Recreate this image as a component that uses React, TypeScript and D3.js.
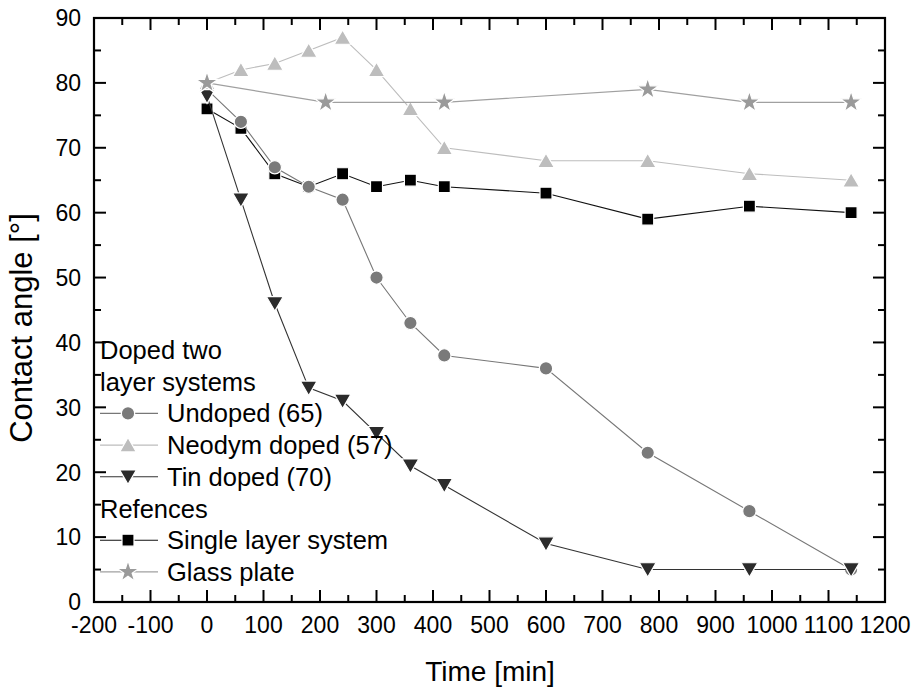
import React from "react";
import * as d3 from "d3";

const undopedX = [0, 60, 120, 180, 240, 300, 360, 420, 600, 780, 960, 1140];
const undopedY = [79, 74, 67, 64, 62, 50, 43, 38, 36, 23, 14, 5];
const neodymX = [0, 60, 120, 180, 240, 300, 360, 420, 600, 780, 960, 1140];
const neodymY = [80, 82, 83, 85, 87, 82, 76, 70, 68, 68, 66, 65];
const tinX = [0, 60, 120, 180, 240, 300, 360, 420, 600, 780, 960, 1140];
const tinY = [78, 62, 46, 33, 31, 26, 21, 18, 9, 5, 5, 5];
const singleX = [0, 60, 120, 180, 240, 300, 360, 420, 600, 780, 960, 1140];
const singleY = [76, 73, 66, 64, 66, 64, 65, 64, 63, 59, 61, 60];
const glassX = [0, 210, 420, 780, 960, 1140];
const glassY = [80, 77, 77, 79, 77, 77];

const xTicks = [-200, -100, 0, 100, 200, 300, 400, 500, 600, 700, 800, 900, 1000, 1100, 1200];
const yTicks = [0, 10, 20, 30, 40, 50, 60, 70, 80, 90];

const FONT = "'Liberation Sans', Arial, Helvetica, sans-serif";

type Series = {
  name: string;
  xs: number[];
  ys: number[];
  color: string;
  line: string;
  symbol: d3.SymbolType;
  size: number;
  rotate: number;
};

const series: Series[] = [
  { name: "Single layer system", xs: singleX, ys: singleY, color: "#000000", line: "#111111", symbol: d3.symbolSquare, size: 144, rotate: 0 },
  { name: "Undoped (65)", xs: undopedX, ys: undopedY, color: "#7a7a7a", line: "#777777", symbol: d3.symbolCircle, size: 140, rotate: 0 },
  { name: "Tin doped (70)", xs: tinX, ys: tinY, color: "#2b2b2b", line: "#333333", symbol: d3.symbolTriangle, size: 120, rotate: 180 },
  { name: "Neodym doped (57)", xs: neodymX, ys: neodymY, color: "#bdbdbd", line: "#bdbdbd", symbol: d3.symbolTriangle, size: 120, rotate: 0 },
  { name: "Glass plate", xs: glassX, ys: glassY, color: "#9a9a9a", line: "#a0a0a0", symbol: d3.symbolStar, size: 145, rotate: 0 },
];

const legendGroups: { title: string[]; items: string[] }[] = [
  { title: ["Doped two", "layer systems"], items: ["Undoped (65)", "Neodym doped (57)", "Tin doped (70)"] },
  { title: ["Refences"], items: ["Single layer system", "Glass plate"] },
];

export default function App() {
  const W = 923, H = 689;
  const L = 94, R = 885, T = 18, B = 602;
  const x = d3.scaleLinear().domain([-200, 1200]).range([L, R]);
  const y = d3.scaleLinear().domain([0, 90]).range([B, T]);
  const line = d3.line<[number, number]>().x(d => x(d[0])).y(d => y(d[1]));

  const xMinor = d3.range(-150, 1200, 100);
  const yMinor = d3.range(5, 90, 10);
  const majL = 12, minL = 7;

  const symPath = (s: Series) => d3.symbol().type(s.symbol).size(s.size)() as string;
  const triOffset = (s: Series) => (s.symbol === d3.symbolTriangle ? (s.rotate ? -2 : 2) : 0);

  const rows: { kind: "title" | "item"; text: string }[] = [];
  legendGroups.forEach(g => {
    g.title.forEach(t => rows.push({ kind: "title", text: t }));
    g.items.forEach(t => rows.push({ kind: "item", text: t }));
  });
  const legTop = 350, rowH = 31.7;

  return (
    <svg width={W} height={H} style={{ position: "absolute", left: 0, top: 0, background: "#fff" }} fontFamily={FONT}>
      <rect x={0} y={0} width={W} height={H} fill="#fff" />
      {series.map(s => {
        const pts: [number, number][] = s.xs.map((v, i) => [v, s.ys[i]]);
        return (
          <g key={s.name}>
            <path d={line(pts) as string} fill="none" stroke={s.line} strokeWidth={1.1} />
            {pts.map((p, i) => (
              <path
                key={i}
                d={symPath(s)}
                transform={`translate(${x(p[0])},${y(p[1]) + triOffset(s)}) rotate(${s.rotate})`}
                fill={s.color}
                stroke="#fff"
                strokeWidth={1.2}
              />
            ))}
          </g>
        );
      })}
      <rect x={L} y={T} width={R - L} height={B - T} fill="none" stroke="#000" strokeWidth={2.2} />
      {xTicks.map(t => (
        <g key={"xt" + t}>
          <line x1={x(t)} x2={x(t)} y1={B} y2={B - majL} stroke="#000" strokeWidth={2} />
          <line x1={x(t)} x2={x(t)} y1={T} y2={T + majL} stroke="#000" strokeWidth={2} />
          <text x={x(t)} y={633} textAnchor="middle" fontSize={23} fill="#000">{t}</text>
        </g>
      ))}
      {xMinor.map(t => (
        <g key={"xm" + t}>
          <line x1={x(t)} x2={x(t)} y1={B} y2={B - minL} stroke="#000" strokeWidth={2} />
          <line x1={x(t)} x2={x(t)} y1={T} y2={T + minL} stroke="#000" strokeWidth={2} />
        </g>
      ))}
      {yTicks.map(t => (
        <g key={"yt" + t}>
          <line x1={L} x2={L + majL} y1={y(t)} y2={y(t)} stroke="#000" strokeWidth={2} />
          <line x1={R} x2={R - majL} y1={y(t)} y2={y(t)} stroke="#000" strokeWidth={2} />
          <text x={81} y={y(t) + 8.3} textAnchor="end" fontSize={23} fill="#000">{t}</text>
        </g>
      ))}
      {yMinor.map(t => (
        <g key={"ym" + t}>
          <line x1={L} x2={L + minL} y1={y(t)} y2={y(t)} stroke="#000" strokeWidth={2} />
          <line x1={R} x2={R - minL} y1={y(t)} y2={y(t)} stroke="#000" strokeWidth={2} />
        </g>
      ))}
      <text x={490} y={681} textAnchor="middle" fontSize={28} fill="#000">Time [min]</text>
      <text transform={`translate(32,${328}) rotate(-90)`} textAnchor="middle" fontSize={31} fill="#000">Contact angle [°]</text>
      {rows.map((r, i) => {
        const cy = legTop + i * rowH;
        if (r.kind === "title") {
          return <text key={"lg" + i} x={100} y={cy + 9} fontSize={25.5} fill="#000">{r.text}</text>;
        }
        const s = series.find(q => q.name === r.text)!;
        return (
          <g key={"lg" + i}>
            <line x1={100} x2={158} y1={cy} y2={cy} stroke={s.line} strokeWidth={1.1} />
            <path d={symPath(s)} transform={`translate(128,${cy + triOffset(s)}) rotate(${s.rotate})`} fill={s.color} stroke="#fff" strokeWidth={1.2} />
            <text x={167} y={cy + 9} fontSize={25.5} fill="#000">{r.text}</text>
          </g>
        );
      })}
    </svg>
  );
}
